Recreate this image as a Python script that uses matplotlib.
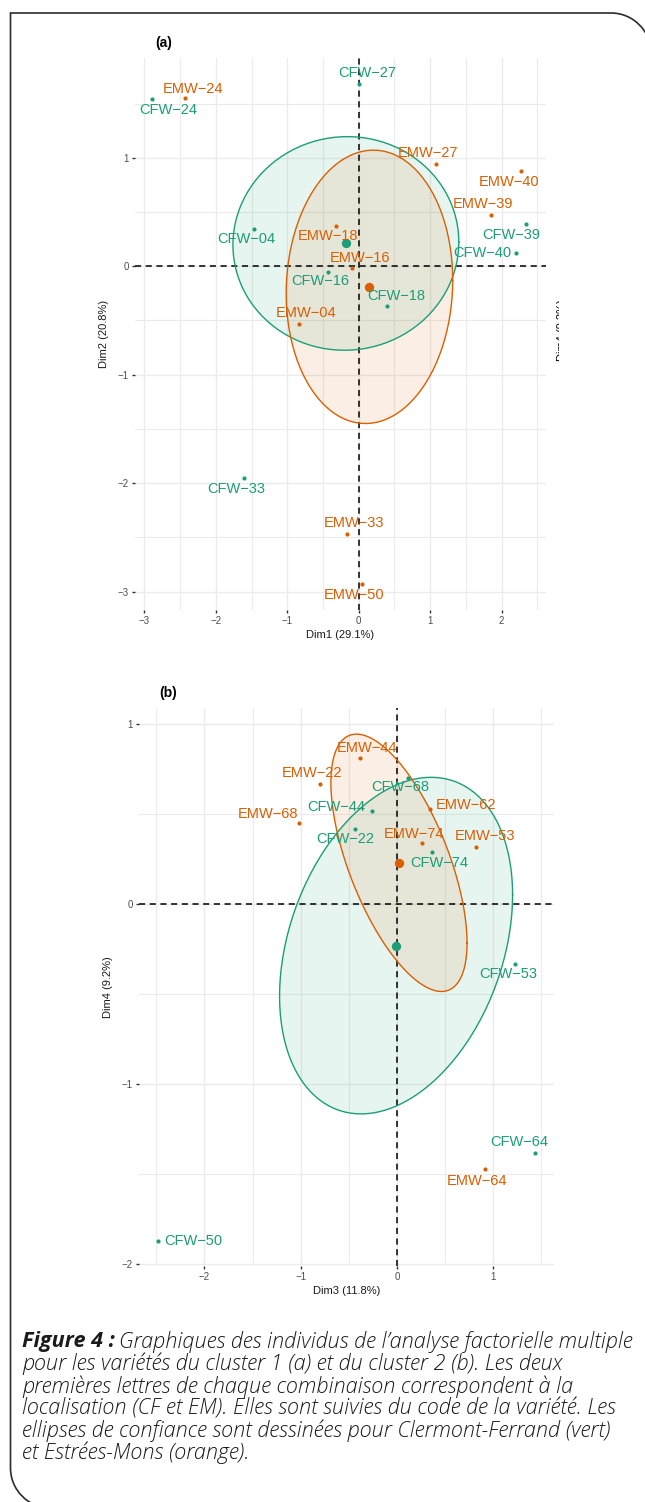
import numpy as np
import matplotlib
matplotlib.use("Agg")
import matplotlib.pyplot as plt
from matplotlib.path import Path
from matplotlib.patches import PathPatch
from matplotlib.transforms import Affine2D

# ---- panel (a): Dim1 / Dim2, cluster 1 ----
a_cf_names = ["CFW-24", "CFW-27", "CFW-04", "CFW-39", "CFW-40", "CFW-16", "CFW-18", "CFW-33"]
a_cf_x = [-2.89, 0.01, -1.46, 2.34, 2.20, -0.43, 0.40, -1.60]
a_cf_y = [1.54, 1.68, 0.34, 0.39, 0.12, -0.05, -0.37, -1.95]
a_cf_lx = [-2.67, 0.12, -1.57, 2.14, 1.73, -0.54, 0.52, -1.71]
a_cf_ly = [1.44, 1.78, 0.25, 0.29, 0.12, -0.14, -0.27, -2.05]

a_em_names = ["EMW-24", "EMW-27", "EMW-40", "EMW-39", "EMW-18", "EMW-16", "EMW-04", "EMW-33", "EMW-50"]
a_em_x = [-2.43, 1.08, 2.27, 1.85, -0.32, -0.09, -0.84, -0.17, 0.04]
a_em_y = [1.55, 0.94, 0.88, 0.47, 0.37, -0.02, -0.53, -2.47, -2.93]
a_em_lx = [-2.32, 0.97, 2.11, 1.74, -0.43, 0.02, -0.73, -0.07, -0.07]
a_em_ly = [1.63, 1.04, 0.78, 0.57, 0.28, 0.08, -0.43, -2.37, -3.03]

a_cf_mean = [-0.18, 0.21]
a_em_mean = [0.15, -0.19]
a_cf_cov = [[2.496, 0.02], [0.02, 0.970]]
a_em_cov = [[1.357, 0.07], [0.07, 1.588]]

# ---- panel (b): Dim3 / Dim4, cluster 2 ----
b_cf_names = ["CFW-68", "CFW-44", "CFW-22", "CFW-74", "CFW-53", "CFW-64", "CFW-50"]
b_cf_x = [0.11, -0.26, -0.44, 0.36, 1.22, 1.43, -2.48]
b_cf_y = [0.70, 0.52, 0.42, 0.29, -0.33, -1.38, -1.87]
b_cf_lx = [0.03, -0.63, -0.54, 0.44, 1.15, 1.27, -2.12]
b_cf_ly = [0.65, 0.54, 0.36, 0.23, -0.39, -1.32, -1.87]

b_em_names = ["EMW-44", "EMW-22", "EMW-62", "EMW-68", "EMW-74", "EMW-53", "EMW-64"]
b_em_x = [-0.38, -0.80, 0.34, -1.02, 0.26, 0.82, 0.91]
b_em_y = [0.81, 0.67, 0.53, 0.45, 0.34, 0.32, -1.47]
b_em_lx = [-0.31, -0.88, 0.72, -1.34, 0.18, 0.91, 0.83]
b_em_ly = [0.87, 0.73, 0.55, 0.50, 0.39, 0.38, -1.54]

b_cf_mean = [-0.01, -0.23]
b_em_mean = [0.02, 0.23]
b_cf_cov = [[1.464, 0.34], [0.34, 0.874]]
b_em_cov = [[0.50, -0.315], [-0.315, 0.511]]

caption_lines = [
    "Graphiques des individus de l\u2019analyse factorielle multiple",
    "pour les variétés du cluster 1 (a) et du cluster 2 (b). Les deux",
    "premières lettres de chaque combinaison correspondent à la",
    "localisation (CF et EM). Elles sont suivies du code de la variété. Les",
    "ellipses de confiance sont dessinées pour Clermont-Ferrand (vert)",
    "et Estrées-Mons (orange).",
]

GREEN = "#1B9E77"
ORANGE = "#D95F02"
W, H = 645, 1502
LABEL_FONT = ["Liberation Sans", "DejaVu Sans"]
CAP_FONT = ["Open Sans", "DejaVu Sans"]


def ellipse_xy(center, cov):
    t = np.linspace(0, 2 * np.pi, 200)
    L = np.linalg.cholesky(np.array(cov))
    pts = L @ np.vstack([np.cos(t), np.sin(t)])
    return center[0] + pts[0], center[1] + pts[1]


def px_axes(fig, left, top, right, bottom):
    return fig.add_axes([left / W, 1 - bottom / H, (right - left) / W, (bottom - top) / H])


def draw_panel(ax, groups, xlim, ylim, xticks, yticks, xlabel, ylabel, tag):
    for s in ax.spines.values():
        s.set_visible(False)
    ax.set_xticks(xticks)
    ax.set_yticks(yticks)
    ax.set_xticks(np.arange(xticks[0] - 0.5, xticks[-1] + 1, 1.0), minor=True)
    ax.set_yticks(np.arange(yticks[0] - 0.5, yticks[-1] + 1, 1.0), minor=True)
    ax.tick_params(which="major", length=2.5, width=1, color="#333333", pad=2,
                   labelsize=7, labelcolor="#4d4d4d")
    ax.tick_params(which="minor", length=0)
    for lab in ax.get_xticklabels() + ax.get_yticklabels():
        lab.set_family(LABEL_FONT)
    ax.grid(which="major", color="#ebebeb", lw=1.0)
    ax.grid(which="minor", color="#ebebeb", lw=0.8)
    ax.set_axisbelow(True)
    ax.axhline(0, color="black", lw=1.1, ls=(0, (4, 3)), zorder=2)
    ax.axvline(0, color="black", lw=1.1, ls=(0, (4, 3)), zorder=2)

    for color, mean, cov, xs, ys, names, lxs, lys in groups:
        ex, ey = ellipse_xy(mean, cov)
        ax.fill(ex, ey, color=color, alpha=0.1, lw=0, zorder=1)
        ax.plot(ex, ey, color=color, lw=1.0, zorder=3)
        ax.scatter(xs, ys, s=9, color=color, zorder=4, lw=0)
        ax.scatter([mean[0]], [mean[1]], s=45, color=color, zorder=4, lw=0)
        for name, lx, ly in zip(names, lxs, lys):
            ax.text(lx, ly, name.replace("-", "\u2212"), color=color, fontsize=10.5,
                    family=LABEL_FONT, ha="center", va="center", zorder=5)

    # limits last, so the minor ticks do not widen them
    ax.set_xlim(*xlim)
    ax.set_ylim(*ylim)
    ax.set_xlabel(xlabel, fontsize=8, family=LABEL_FONT, color="#1a1a1a", labelpad=3)
    ax.set_ylabel(ylabel, fontsize=8, family=LABEL_FONT, color="#1a1a1a", labelpad=6)
    ax.text(0.07, 1.015, tag, transform=ax.transAxes, fontsize=10, fontweight="bold",
            family=LABEL_FONT, ha="center", va="bottom")


fig = plt.figure(figsize=(W / 100, H / 100), dpi=100)

ax_a = px_axes(fig, 135, 58, 546, 610)
draw_panel(ax_a,
           [(GREEN, a_cf_mean, a_cf_cov, a_cf_x, a_cf_y, a_cf_names, a_cf_lx, a_cf_ly),
            (ORANGE, a_em_mean, a_em_cov, a_em_x, a_em_y, a_em_names, a_em_lx, a_em_ly)],
           (-3.13, 2.62), (-3.17, 1.92), [-3, -2, -1, 0, 1, 2], [-3, -2, -1, 0, 1],
           "Dim1 (29.1%)", "Dim2 (20.8%)", "(a)")

ax_b = px_axes(fig, 139, 708, 554, 1266)
draw_panel(ax_b,
           [(GREEN, b_cf_mean, b_cf_cov, b_cf_x, b_cf_y, b_cf_names, b_cf_lx, b_cf_ly),
            (ORANGE, b_em_mean, b_em_cov, b_em_x, b_em_y, b_em_names, b_em_lx, b_em_ly)],
           (-2.68, 1.63), (-2.01, 1.09), [-2, -1, 0, 1], [-2, -1, 0, 1],
           "Dim3 (11.8%)", "Dim4 (9.2%)", "(b)")

# sliver of the neighbouring panel's axis title, cut off at the right
ax_s = px_axes(fig, 553, 280, 558.5, 380)
ax_s.set_axis_off()
ax_s.text(1.6, 0.5, "Dim4 (9.2%)", rotation=90, fontsize=8, family=LABEL_FONT,
          ha="center", va="center", transform=ax_s.transAxes, clip_on=True)

# caption: size chosen so the first line spans the same width as in the figure
renderer = fig.canvas.get_renderer()
base = dict(family=CAP_FONT, style="italic", fontsize=10)
p1 = fig.text(0, 0, "Figure 4 :", fontweight="bold", **base)
p2 = fig.text(0, 0, caption_lines[0], fontweight="light", **base)
w1 = p1.get_window_extent(renderer).width + p2.get_window_extent(renderer).width
p1.remove()
p2.remove()
cap_size = 10 * (610 - 4) / w1

cap_kw = dict(fontsize=cap_size, family=CAP_FONT, style="italic",
              color="#1a1a1a", va="center", ha="left")
y0, dy = 1342, 22.2
t0 = fig.text(22 / W, 1 - y0 / H, "Figure 4 :", fontweight="bold", **cap_kw)
bb = t0.get_window_extent(renderer)
fig.text((bb.x1 + 4) / W, 1 - y0 / H, caption_lines[0], fontweight="light", **cap_kw)
for i, line in enumerate(caption_lines[1:], start=1):
    fig.text(22 / W, 1 - (y0 + i * dy) / H, line, fontweight="light", **cap_kw)

# frame with two rounded corners (top right, bottom left)
to_fig = Affine2D().scale(1 / W, -1 / H).translate(0, 1) + fig.transFigure
R = 40
k = 0.5523
top_y, left_x = 13, 10.5
right_x, bot_y = 645 + 6, 1502 + 6
verts = [(right_x, top_y + R), (right_x, top_y + R - k * R), (right_x - R + k * R, top_y),
         (right_x - R, top_y), (left_x, top_y), (left_x, bot_y - R),
         (left_x, bot_y - R + k * R), (left_x + R - k * R, bot_y), (left_x + R, bot_y)]
codes = [Path.MOVETO, Path.CURVE4, Path.CURVE4, Path.CURVE4, Path.LINETO, Path.LINETO,
         Path.CURVE4, Path.CURVE4, Path.CURVE4]
fig.patches.append(PathPatch(Path(verts, codes), transform=to_fig, fill=False,
                             lw=1.2, edgecolor="#2b2b2b"))

fig.savefig("out.png", dpi=100)
